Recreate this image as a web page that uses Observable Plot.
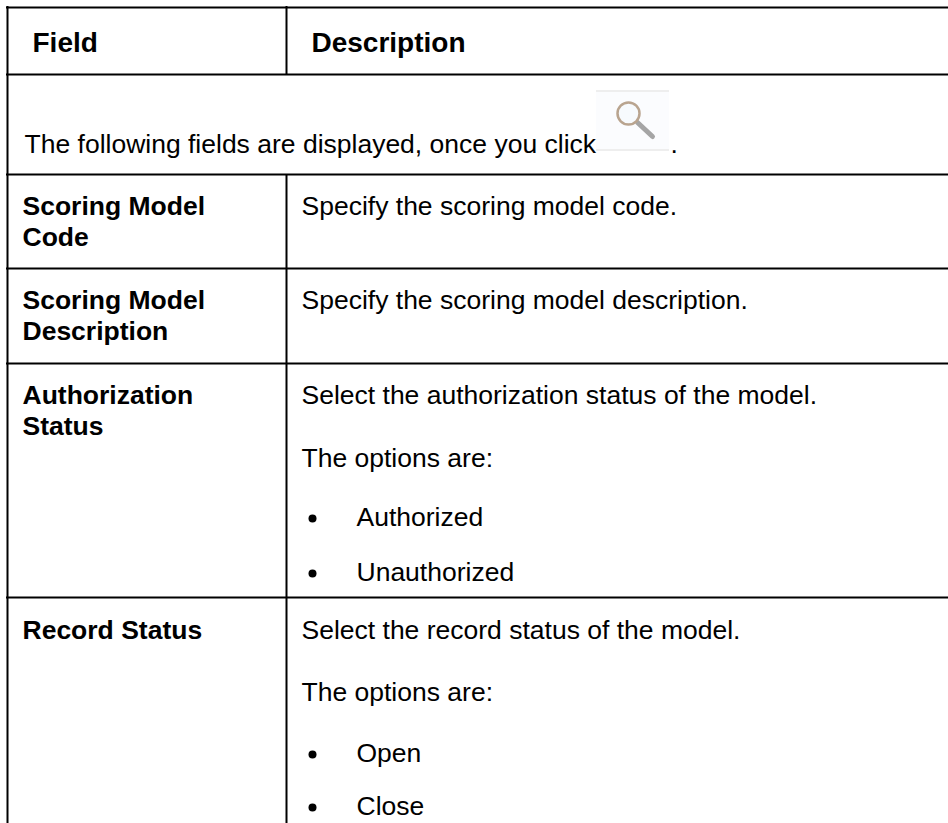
<!DOCTYPE html>
<html>
<head>
<meta charset="utf-8">
<script src="https://cdn.jsdelivr.net/npm/d3@7"></script>
<script src="https://cdn.jsdelivr.net/npm/@observablehq/plot@0.6"></script>
<style>html,body{margin:0;padding:0;background:#fff}svg{display:block}</style>
</head>
<body>
<div id="chart"></div>
<script>
const rowLines = [7, 74, 174, 268, 363, 597];
const columnLines = [
  {x: 7, y1: 6, y2: 823},
  {x: 286, y1: 6, y2: 74},
  {x: 286, y1: 174, y2: 823}
];
const boldLabels = [
  {x: 32, y: 51, t: "Field", s: 28},
  {x: 311, y: 51, t: "Description", s: 28},
  {x: 22, y: 214, t: "Scoring Model"},
  {x: 22, y: 245, t: "Code"},
  {x: 22, y: 308, t: "Scoring Model"},
  {x: 22, y: 339, t: "Description"},
  {x: 22, y: 403, t: "Authorization"},
  {x: 22, y: 434, t: "Status"},
  {x: 22, y: 638, t: "Record Status"}
];
const plainLabels = [
  {x: 24, y: 152, t: "The following fields are displayed, once you click"},
  {x: 670, y: 152, t: "."},
  {x: 301, y: 214, t: "Specify the scoring model code."},
  {x: 301, y: 308, t: "Specify the scoring model description."},
  {x: 301, y: 403, t: "Select the authorization status of the model."},
  {x: 301, y: 466, t: "The options are:"},
  {x: 356, y: 525, t: "Authorized"},
  {x: 356, y: 580, t: "Unauthorized"},
  {x: 301, y: 638, t: "Select the record status of the model."},
  {x: 301, y: 700, t: "The options are:"},
  {x: 356, y: 761, t: "Open"},
  {x: 356, y: 814, t: "Close"}
];
const bullets = [{x: 312, y: 518}, {x: 312, y: 573}, {x: 312, y: 754}, {x: 312, y: 807}];
const iconBox = [{x1: 596, x2: 669, y1: 90, y2: 151}];
const iconEdges = [{x1: 596, x2: 669, y1: 90, y2: 92}, {x1: 596, x2: 669, y1: 149, y2: 151}];
const lens = [{x: 628, y: 113}];
const lensRadius = 11;
const handle = [{x1: 637, y1: 122, x2: 652, y2: 136}];
const font = "'Liberation Sans', Arial, sans-serif";

const plot = Plot.plot({
  width: 948, height: 823,
  margin: 0,
  style: {background: "#fff", fontFamily: font},
  x: {domain: [0, 948], range: [0, 948], axis: null},
  y: {domain: [0, 823], range: [0, 823], axis: null},
  marks: [
    Plot.rectY(iconBox, {x1: "x1", x2: "x2", y1: "y1", y2: "y2", fill: "#fbfcfe"}),
    Plot.rectY(iconEdges, {x1: "x1", x2: "x2", y1: "y1", y2: "y2", fill: "#eeeeee"}),
    Plot.link(handle, {x1: "x1", y1: "y1", x2: "x2", y2: "y2", stroke: "#a5a5a5", strokeWidth: 5, strokeLinecap: "round"}),
    Plot.dot(lens, {x: "x", y: "y", r: lensRadius, stroke: "#b9a48f", strokeWidth: 2.5, fill: "#f7fafd"}),
    Plot.ruleY(rowLines, {y: d => d, x1: 6, x2: 948, stroke: "#000", strokeWidth: 2}),
    Plot.ruleX(columnLines, {x: "x", y1: "y1", y2: "y2", stroke: "#000", strokeWidth: 2}),
    Plot.text(boldLabels, {x: "x", y: "y", text: "t", textAnchor: "start", lineAnchor: "bottom", fontSize: d => d.s ?? 26.5, fontWeight: "bold", fill: "#000", fontFamily: font}),
    Plot.text(plainLabels, {x: "x", y: "y", text: "t", textAnchor: "start", lineAnchor: "bottom", fontSize: 26.5, fill: "#000", fontFamily: font}),
    Plot.dot(bullets, {x: "x", y: "y", r: 4, fill: "#000"})
  ]
});
document.getElementById("chart").append(plot);
</script>
</body>
</html>
